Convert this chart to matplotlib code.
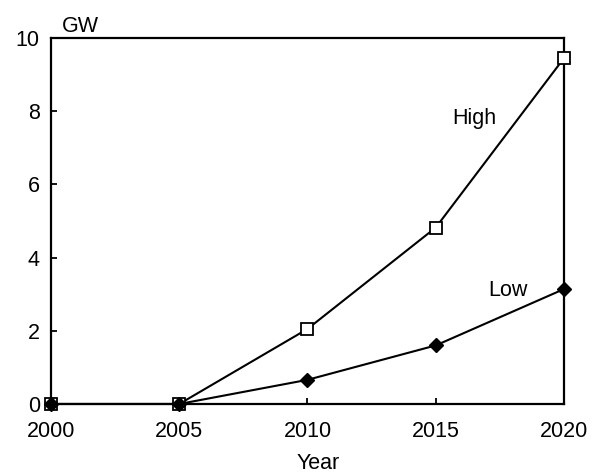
import matplotlib
matplotlib.use("Agg")
import matplotlib.pyplot as plt

years = [2000, 2005, 2010, 2015, 2020]
high = [0.0, 0.0, 2.05, 4.82, 9.45]
low = [0.0, 0.0, 0.66, 1.6, 3.14]

plt.rcParams["font.family"] = ["Liberation Sans", "DejaVu Sans"]
FS = 15.5

fig = plt.figure(figsize=(5.97, 4.73), dpi=100)
ax = fig.add_axes([0.0854, 0.1459, 0.8593, 0.7738])

ax.plot(years, high, color="black", lw=1.5, marker="s", markersize=8.3,
        markerfacecolor="white", markeredgecolor="black", markeredgewidth=1.3,
        clip_on=False, zorder=3)
ax.plot(years, low, color="black", lw=1.5, marker="D", markersize=7.5,
        markerfacecolor="black", markeredgecolor="black", clip_on=False, zorder=4)

ax.set_xlim(2000, 2020)
ax.set_ylim(0, 10)
ax.set_xticks([2000, 2005, 2010, 2015, 2020])
ax.set_yticks([0, 2, 4, 6, 8, 10])
ax.tick_params(direction="in", length=4, width=1.3, labelsize=FS)
ax.tick_params(axis="x", pad=12)
ax.tick_params(axis="y", pad=8)
for s in ax.spines.values():
    s.set_linewidth(1.6)

fig.text(62 / 597, 1 - 32 / 473, "GW", fontsize=FS, va="baseline", ha="left")
fig.text(318 / 597, 1 - 469 / 473, "Year", fontsize=FS, va="baseline", ha="center")
ax.text(2016.5, 7.79, "High", fontsize=FS, ha="center", va="center")
ax.text(2017.8, 3.09, "Low", fontsize=FS, ha="center", va="center")

fig.savefig("out.png", dpi=100)
